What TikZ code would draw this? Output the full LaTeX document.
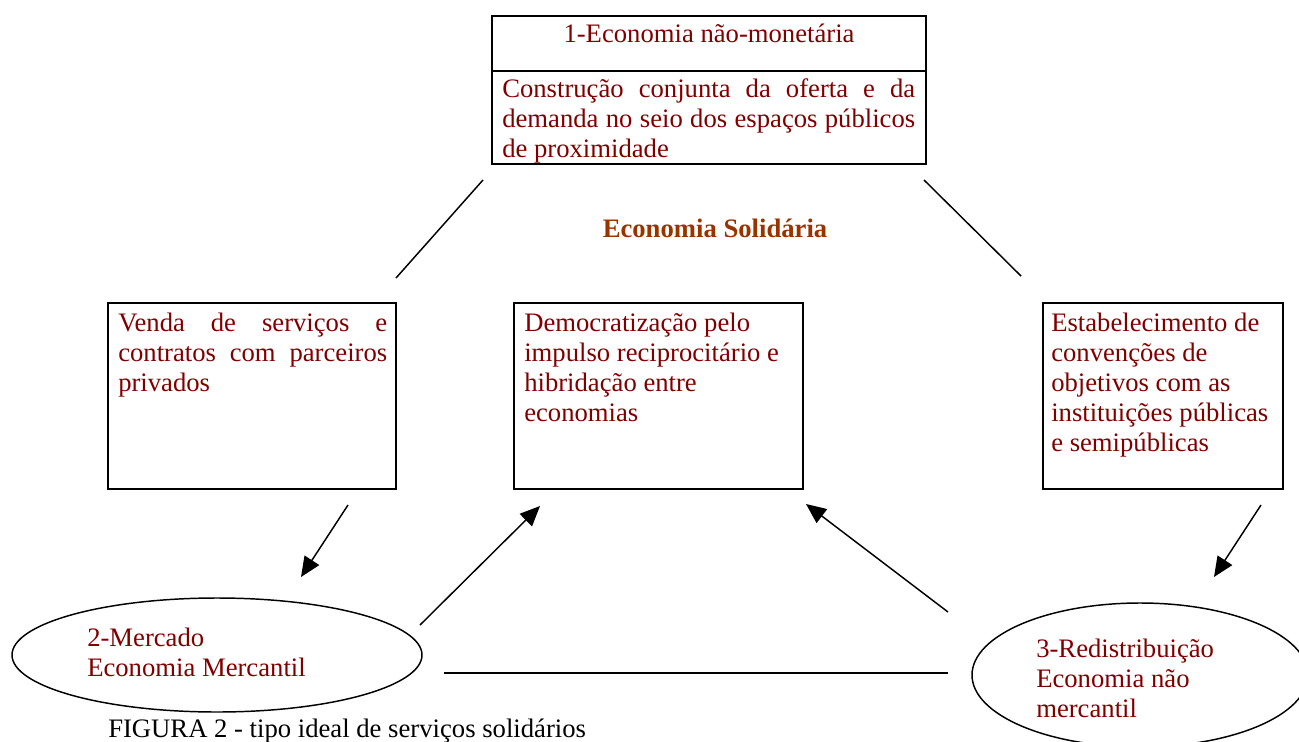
\documentclass[tikz,border=0pt]{standalone}
\usepackage{fontspec}
\setmainfont{Liberation Serif}
\usetikzlibrary{arrows.meta,shapes.geometric}
\definecolor{txtred}{RGB}{128,0,0}
\definecolor{solbrown}{RGB}{153,51,0}
\newcommand{\jline}[2]{\makebox[#1][s]{#2}}
\tikzset{
  box/.style={draw=black,line width=1.3pt},
  oval/.style={draw=black,line width=1.1pt},
  body/.style={inner sep=0pt,anchor=north west,text=txtred,font=\fontsize{20}{22.5}\selectfont},
  link/.style={line width=1.1pt},
  arr/.style={line width=1.1pt,-{Triangle[length=15pt,width=13pt]}}
}
\begin{document}
\begin{tikzpicture}[x=0.75pt,y=-0.75pt]
\useasboundingbox (0,0) rectangle (1299,742);
% top box
\draw[box] (492,16) rectangle (926,164);
\draw[box] (492,71) -- (926,71);
\node[inner sep=0pt,anchor=base,text=txtred,font=\fontsize{20}{22.5}\selectfont] (t1) at (709,43) {1-Economia não-monetária};
\node[body,align=left] (t2) at (502,76) {\strut\jline{309.75pt}{Construção conjunta da oferta e da}\\ \jline{309.75pt}{demanda no seio dos espaços públicos}\\ de proximidade};
% title
\node[inner sep=0pt,anchor=base,text=solbrown,font=\fontsize{20}{22.5}\selectfont\bfseries] (sol) at (715,237) {Economia Solidária};
% boxes
\draw[box] (108,303) rectangle (396,489);
\node[body,align=left] (lb) at (118,310) {\strut\jline{201.75pt}{Venda de serviços e}\\ \jline{201.75pt}{contratos com parceiros}\\ privados};
\draw[box] (514,303) rectangle (803,489);
\node[body,align=left] (mb) at (524,310) {\strut Democratização pelo\\ impulso reciprocitário e\\ hibridação entre\\ economias};
\draw[box] (1043,303) rectangle (1283,489);
\node[body,align=left] (rb) at (1051,310) {\strut Estabelecimento de\\ convenções de\\ objetivos com as\\ instituições públicas\\ e semipúblicas};
% ellipses
\node[ellipse,oval,minimum width=307.5pt,minimum height=85.5pt] (e1) at (217,655) {};
\node[body,align=left] (e1t) at (87,625) {\strut 2-Mercado\\ Economia Mercantil};
\node[ellipse,oval,minimum width=252pt,minimum height=108pt] (e2) at (1140,675) {};
\node[body,align=left] (e2t) at (1036,636) {\strut 3-Redistribuição\\ Economia não\\ mercantil};
% caption
\node[inner sep=0pt,anchor=base west,font=\fontsize{20}{22.5}\selectfont] (cap) at (108,737) {FIGURA 2 - tipo ideal de serviços solidários};
% connector end points
\coordinate (l1a) at (483,180); \coordinate (l1b) at (396,278);
\coordinate (l2a) at (924,180); \coordinate (l2b) at (1021,276);
\coordinate (a1s) at (348,505); \coordinate (a1e) at (301,577);
\coordinate (a2s) at (420,625); \coordinate (a2e) at (540,506);
\coordinate (a3s) at (948,612); \coordinate (a3e) at (806,504);
\coordinate (a4s) at (1261,505); \coordinate (a4e) at (1214,577);
\coordinate (h1) at (444,673); \coordinate (h2) at (948,673);
\draw[link] (l1a) -- (l1b);
\draw[link] (l2a) -- (l2b);
\draw[link] (h1) -- (h2);
\draw[arr] (a1s) -- (a1e);
\draw[arr] (a2s) -- (a2e);
\draw[arr] (a3s) -- (a3e);
\draw[arr] (a4s) -- (a4e);
\end{tikzpicture}
\end{document}
